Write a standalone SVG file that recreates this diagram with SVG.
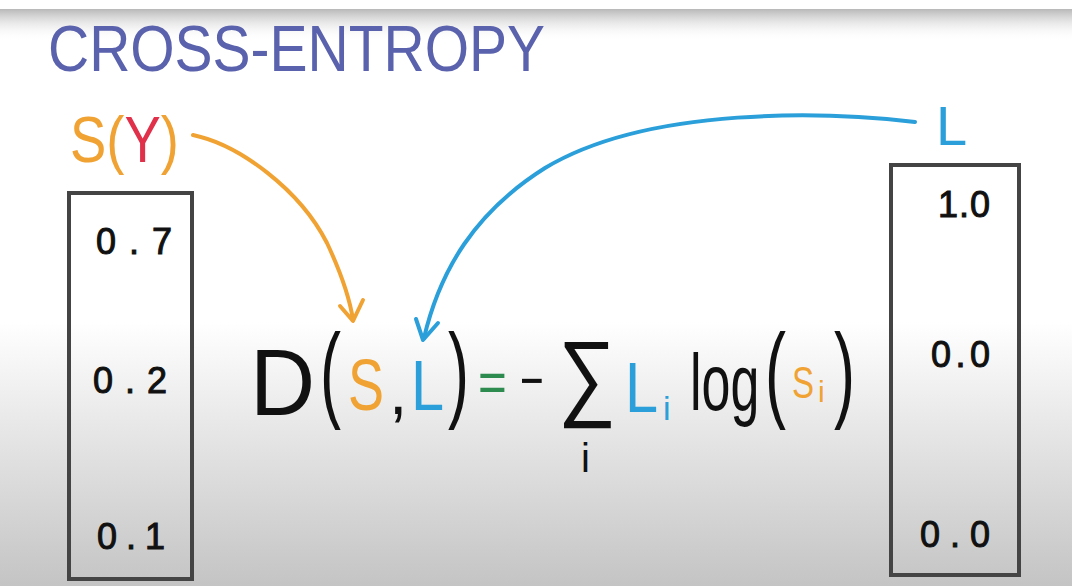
<svg xmlns="http://www.w3.org/2000/svg" width="1072" height="586" viewBox="0 0 1072 586">
<defs>
<linearGradient id="bg" x1="0" y1="0" x2="0" y2="1">
<stop offset="0" stop-color="#ffffff"/>
<stop offset="0.55" stop-color="#ffffff"/>
<stop offset="0.7" stop-color="#ebebeb"/>
<stop offset="1" stop-color="#c4c4c4"/>
</linearGradient>
<linearGradient id="topband" x1="0" y1="0" x2="0" y2="1">
<stop offset="0" stop-color="#b8b8b8"/>
<stop offset="1" stop-color="#ffffff" stop-opacity="0"/>
</linearGradient>
<style>
.hw{font-family:"Liberation Sans","DejaVu Sans",sans-serif;}
.num{font-family:"Liberation Sans","DejaVu Sans",sans-serif;font-size:36px;fill:#111;stroke:#111;stroke-width:1px;}
.box{fill:none;stroke:#444;stroke-width:4;}
.blk{fill:#111;}
.org{fill:#f0a232;}
.blu{fill:#2a9fd9;}
.par{font-size:105px;fill:#111;}
.arr{fill:none;stroke-width:4;stroke-linecap:round;stroke-linejoin:round;}
</style>
</defs>
<rect width="1072" height="586" fill="url(#bg)"/>
<rect x="0" y="9" width="1072" height="32" fill="url(#topband)"/>

<g id="title">
<text class="hw" x="48" y="71" font-size="64" fill="#5a62ad" textLength="497" lengthAdjust="spacingAndGlyphs">CROSS-ENTROPY</text>
</g>

<g id="sy-label">
<text class="hw" transform="translate(70,162) scale(0.85,1)" font-size="64" fill="#f0a232"><tspan>S(</tspan><tspan fill="#e0304a">Y</tspan><tspan>)</tspan></text>
</g>

<g id="l-label">
<text class="hw blu" x="936" y="145" font-size="56">L</text>
</g>

<g id="s-vector">
<rect class="box" x="69" y="193" width="123" height="386"/>
<text class="num" x="96" y="254" textLength="76" lengthAdjust="spacing">0.7</text>
<text class="num" x="93" y="393" textLength="74" lengthAdjust="spacing">0.2</text>
<text class="num" x="97" y="549" textLength="68" lengthAdjust="spacing">0.1</text>
</g>

<g id="l-vector">
<rect class="box" x="891" y="165" width="128" height="410"/>
<text class="num" x="938" y="217" textLength="52" lengthAdjust="spacing">1.0</text>
<text class="num" x="931" y="367" textLength="59" lengthAdjust="spacing">0.0</text>
<text class="num" x="920" y="547" textLength="70" lengthAdjust="spacing">0.0</text>
</g>

<g id="formula" class="hw">
<text class="blk" transform="translate(250,415) scale(0.95,1)" font-size="95">D</text>
<text class="par" transform="translate(320,408) scale(0.6,1)">(</text>
<text class="org" transform="translate(348,410) scale(0.75,1)" font-size="72">S</text>
<text class="blk" x="389" y="414" font-size="66">,</text>
<text class="blu" transform="translate(411,410) scale(0.85,1)" font-size="70">L</text>
<text class="par" transform="translate(448,408) scale(0.6,1)">)</text>
<text fill="#2e8b50" transform="translate(478,402) scale(0.85,1)" font-size="58">=</text>
<text class="blk" transform="translate(520,400) scale(0.7,1)" font-size="58">−</text>
<text class="blk" transform="translate(558,408) scale(0.85,1)" font-size="96">∑</text>
<text class="blk" x="581" y="472" font-size="40">i</text>
<text class="blu" transform="translate(625,412) scale(0.85,1)" font-size="70">L</text>
<text class="blu" x="663" y="420" font-size="34">i</text>
<text class="blk" transform="translate(690,410) scale(0.65,1)" font-size="80">log</text>
<text class="par" transform="translate(765,408) scale(0.6,1)">(</text>
<text class="org" transform="translate(792,398) scale(0.75,1)" font-size="44">S</text>
<text class="org" x="818" y="402" font-size="30">i</text>
<text class="par" transform="translate(834,408) scale(0.6,1)">)</text>
</g>

<g id="connectors">
<path class="arr" stroke="#f0a232" d="M193,135 C240,145 300,190 327,243 C342,275 350,300 353,320"/>
<path class="arr" stroke="#f0a232" d="M340,306 L353,321 L363,300"/>
<path class="arr" stroke="#2a9fd9" d="M915,122 C830,112 650,105 545,168 C475,212 440,270 424,338"/>
<path class="arr" stroke="#2a9fd9" d="M416,319 L423,340 L438,323"/>
</g>
</svg>
